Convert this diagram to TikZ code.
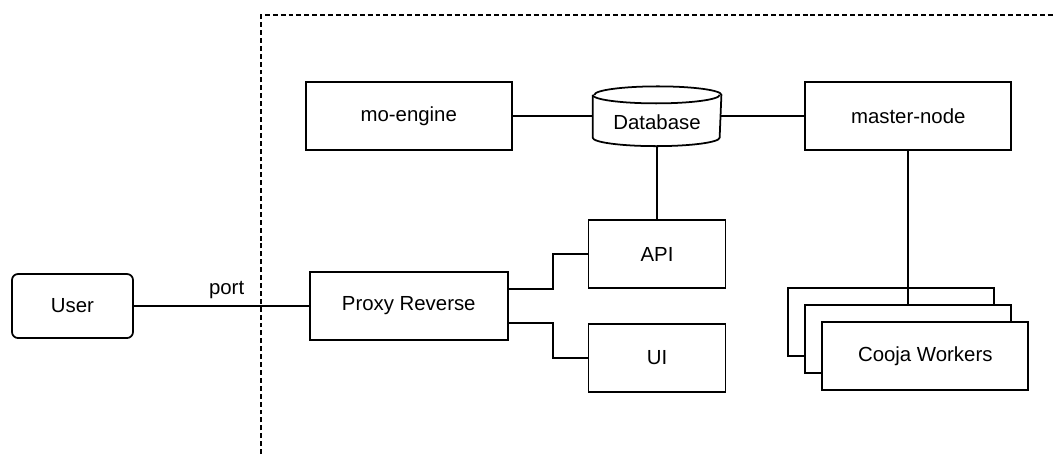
\documentclass[tikz,border=0pt]{standalone}
\usepackage{fontspec}
\setmainfont{Liberation Sans}
\usepackage{tikz}
\usetikzlibrary{positioning}
\tikzset{%
  link/.style = {line width=1pt},
  boundary/.style = {line width=1pt,dash pattern=on 2.8pt off 1.7pt},
  box/.style = {rectangle,draw,fill=white,line width=1pt,
        minimum width=4.12cm,minimum height=1.36cm},
  sbox/.style = {rectangle,draw,fill=white,line width=1pt,
        minimum width=2.74cm,minimum height=1.36cm},
  ubox/.style = {rectangle,draw,rounded corners=0.12cm,line width=1pt,
        minimum width=2.42cm,minimum height=1.28cm},
  db/.style = {rectangle,line width=1pt,
        minimum width=2.54cm,minimum height=1.16cm}
}
\begin{document}
\begin{tikzpicture}[node distance=0.68cm and 0.7cm]\fontsize{11.6}{13}\selectfont
                    \useasboundingbox (0,0) rectangle (21.08,-9.08);
                    \draw[boundary] (5.22,-9.08) -- (5.22,-0.3) -- (21.08,-0.3);

                    \node[ubox] (user) at (1.45,-6.12) {User};
                    \node[box,minimum width=3.96cm] (proxy) [right=3.5cm of user] {Proxy Reverse};
                    \node[box] (engine) [above=2.4cm of proxy] {mo-engine};
                    \node[db] (db) [right=1.6cm of engine] {\raisebox{-0.12cm}[\height][\depth]{Database}};
                    \node[box] (master) [right=1.66cm of db] {master-node};
                    \node[sbox] (api) [below=1.46cm of db] {API};
                    \node[sbox] (ui) [below=of api] {UI};
                    \node[box,xshift=-0.34cm] (wback) [below=2.72cm of master] {};
                    \node[box,xshift=0.34cm,yshift=-0.34cm] (wmid) at (wback) {};
                    \node[box,xshift=0.34cm,yshift=-0.34cm] (wfront) at (wmid) {Cooja Workers};

                    % database drum
                    \draw[link] ([yshift=-0.17cm]db.north west) -- ([yshift=0.17cm]db.south west)
                        arc[start angle=180,end angle=360,x radius=1.27cm,y radius=0.17cm]
                        -- ([yshift=-0.17cm]db.north east)
                        arc[start angle=0,end angle=180,x radius=1.27cm,y radius=0.17cm];
                    \draw[link] ([yshift=-0.17cm]db.north west)
                        arc[start angle=180,end angle=360,x radius=1.27cm,y radius=0.17cm];

                    \draw[link] (user) -- node[above,pos=0.53] {port} (proxy);
                    \draw[link] (engine) -- (db);
                    \draw[link] (db) -- (master);
                    \draw[link] (db) -- (api);
                    \draw[link] ([yshift=0.34cm]proxy.east) -- ++(0.88,0) |- (api);
                    \draw[link] ([yshift=-0.34cm]proxy.east) -- ++(0.88,0) |- (ui);
                    \draw[link] (master) -- (wmid);
                 \end{tikzpicture}
\end{document}
